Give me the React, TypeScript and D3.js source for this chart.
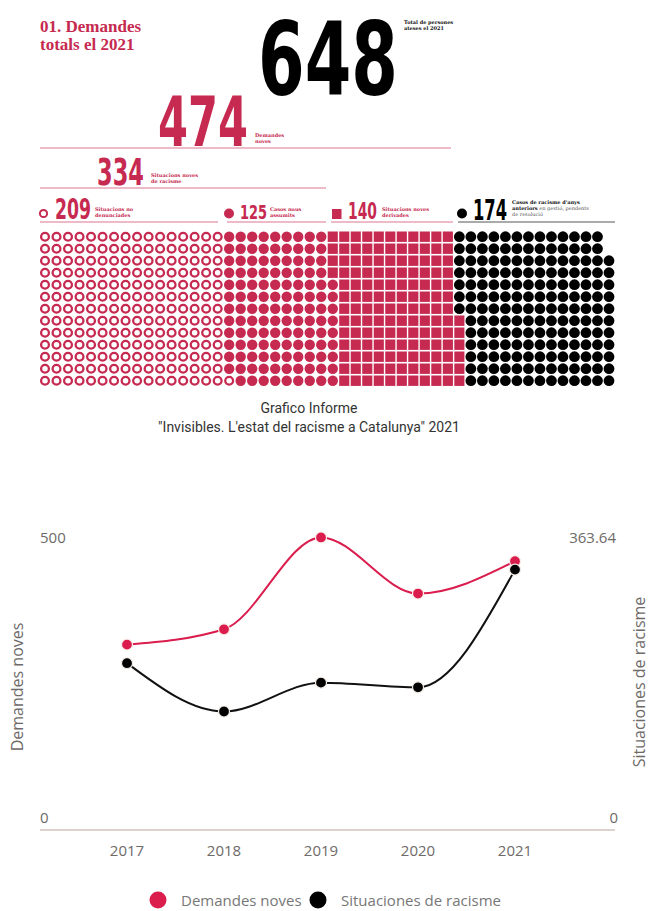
import React, { useLayoutEffect, useRef, useState } from 'react';
import * as d3 from 'd3';

// dades
const wCounts = [209, 125, 140, 174];
const wKinds = ['ring', 'dot', 'square', 'black'];
const ROWS = 13;

const years = [2017, 2018, 2019, 2020, 2021];
const demandesNoves = [327, 354, 516, 417, 474];
const situacions = [214, 152, 189, 183, 334];
const leftMax = 500;
const rightMax = 363.64;

const RED = '#c62a50';
const RED2 = '#da1d4d';
const LINE_PINK = '#eaa3b4';
const GREY = '#6e6a68';
const NUM_FONT = '"Liberation Sans Narrow", "DejaVu Sans Condensed", "Liberation Sans", Arial, sans-serif';
const SERIF = '"DejaVu Serif", "Liberation Serif", serif';
const AXIS_FONT = '"Open Sans", "Noto Sans", sans-serif';

// waffle cells, column by column, from the bottom up
const cells: { kind: string; col: number; row: number }[] = [];
{
  let i = 0;
  wCounts.forEach((n, k) => {
    for (let j = 0; j < n; j++, i++) {
      cells.push({ kind: wKinds[k], col: Math.floor(i / ROWS), row: ROWS - 1 - (i % ROWS) });
    }
  });
}

// big condensed number: squeezed horizontally to the width seen in the reference
const BigNum = ({ x, y, size, len, fill, children }: any) => {
  const ref = useRef<SVGTextElement>(null);
  const [sx, setSx] = useState(1);
  useLayoutEffect(() => {
    const w = ref.current ? ref.current.getComputedTextLength() : 0;
    if (w > 0) setSx(len / w);
  }, [len, size]);
  return (
    <text ref={ref} transform={`translate(${x},${y}) scale(${sx},1)`} fontFamily={NUM_FONT}
      fontWeight="bold" fontSize={size} fill={fill}>{children}</text>
  );
};

const Tiny = ({ x, y, lines, fill = RED }: any) => (
  <g fontFamily={SERIF} fontWeight="bold" fontSize={5} fill={fill}>
    {lines.map((l: string, i: number) => (
      <text key={i} x={x} y={y + i * 6}>{l}</text>
    ))}
  </g>
);

export default function App() {
  const nCols = Math.ceil(cells.length / ROWS);
  const cx = d3.scaleLinear().domain([0, nCols - 1]).range([45, 609]);
  const cy = d3.scaleLinear().domain([0, ROWS - 1]).range([236.7, 380.7]);
  const colStep = cx(1) - cx(0);
  const rowStep = cy(1) - cy(0);

  const x = d3.scalePoint<number>().domain(years).range([127, 515]);
  const yL = d3.scaleLinear().domain([0, leftMax]).range([830, 546.5]);
  const yR = d3.scaleLinear().domain([0, rightMax]).range([830, 546.5]);

  const lineL = d3.line<number>().x((_, i) => x(years[i])!).y(d => yL(d)).curve(d3.curveMonotoneX);
  const lineR = d3.line<number>().x((_, i) => x(years[i])!).y(d => yR(d)).curve(d3.curveMonotoneX);

  return (
    <svg width={650} height={911} style={{ position: 'absolute', left: 0, top: 0, background: '#fff' }}>
      {/* capçalera */}
      <text x={40} y={31.5} fontFamily='"Liberation Serif", serif' fontWeight="bold" fontSize={17} fill={RED}>01. Demandes</text>
      <text x={40} y={49.5} fontFamily='"Liberation Serif", serif' fontWeight="bold" fontSize={17} fill={RED}>totals el 2021</text>

      <BigNum x={258} y={95} size={102} len={140} fill="#000">648</BigNum>
      <Tiny x={404} y={24} lines={['Total de persones', 'ateses el 2021']} fill="#111" />

      <BigNum x={158} y={145.5} size={70} len={90} fill={RED}>474</BigNum>
      <Tiny x={255} y={137} lines={['Demandes', 'noves']} />
      <line x1={40} x2={451} y1={148} y2={148} stroke={LINE_PINK} strokeWidth={1.5} />

      <BigNum x={97} y={185} size={38} len={47} fill={RED}>334</BigNum>
      <Tiny x={151} y={177} lines={['Situacions noves', 'de racisme']} />
      <line x1={40} x2={326} y1={188} y2={188} stroke={LINE_PINK} strokeWidth={1.5} />

      <circle cx={43.5} cy={213.5} r={3.6} fill="#fff" stroke={RED} strokeWidth={2} />
      <BigNum x={55} y={219} size={28} len={36} fill={RED}>209</BigNum>
      <Tiny x={95} y={211} lines={['Situacions no', 'denunciades']} />
      <line x1={40} x2={218} y1={222} y2={222} stroke={LINE_PINK} strokeWidth={1.5} />

      <circle cx={229} cy={213.5} r={5} fill={RED} />
      <BigNum x={240} y={219} size={19} len={27} fill={RED}>125</BigNum>
      <Tiny x={270} y={211} lines={['Casos nous', 'assumits']} />
      <line x1={227} x2={326} y1={222} y2={222} stroke={LINE_PINK} strokeWidth={1.5} />

      <rect x={332} y={209} width={9.5} height={10} fill={RED} />
      <BigNum x={348} y={219} size={23} len={29} fill={RED}>140</BigNum>
      <Tiny x={382} y={211} lines={['Situacions noves', 'derivades']} />
      <line x1={331} x2={453} y1={222} y2={222} stroke={LINE_PINK} strokeWidth={1.5} />

      <circle cx={462} cy={213.5} r={5} fill="#000" />
      <BigNum x={473} y={220} size={28} len={34} fill="#000">174</BigNum>
      <g fontFamily={SERIF} fontSize={5} fill="#555">
        <text x={512} y={204} fontWeight="bold" fill="#111">Casos de racisme d'anys</text>
        <text x={512} y={210}>
          <tspan fontWeight="bold" fill="#111">anteriors</tspan> en gestió, pendents
        </text>
        <text x={512} y={216}>de resolució</text>
      </g>
      <line x1={458} x2={615} y1={222} y2={222} stroke="#aaa" strokeWidth={2} />

      {/* waffle */}
      <g>
        {cells.map((c, i) => {
          const px = cx(c.col);
          const py = cy(c.row);
          if (c.kind === 'ring')
            return <circle key={i} cx={px} cy={py} r={3.9} fill="#fff" stroke={RED} strokeWidth={2.3} />;
          if (c.kind === 'dot')
            return <circle key={i} cx={px} cy={py} r={5.2} fill={RED} />;
          if (c.kind === 'square')
            return <rect key={i} x={px - colStep / 2 + 0.7} y={py - rowStep / 2 + 0.8}
              width={colStep - 1.4} height={rowStep - 1.6} fill={RED} />;
          return <circle key={i} cx={px} cy={py} r={5.4} fill="#000" />;
        })}
      </g>

      {/* peu */}
      <text x={309} y={413} textAnchor="middle" fontFamily="Roboto, sans-serif" fontSize={14} fill="#333">Grafico Informe</text>
      <text x={309} y={432} textAnchor="middle" fontFamily="Roboto, sans-serif" fontSize={14} fill="#333">
        "Invisibles. L'estat del racisme a Catalunya" 2021
      </text>

      {/* gràfic de línies */}
      <g fontFamily={AXIS_FONT} fill={GREY}>
        <text x={40} y={yL(leftMax) - 4} fontSize={15}>{leftMax}</text>
        <text x={40} y={yL(0) - 7} fontSize={15}>0</text>
        <text x={616} y={yR(rightMax) - 4} fontSize={15} textAnchor="end">{rightMax.toFixed(2)}</text>
        <text x={618} y={yR(0) - 7} fontSize={15} textAnchor="end">0</text>
        <text transform={`translate(23,687) rotate(-90)`} textAnchor="middle" fontSize={16}>Demandes noves</text>
        <text transform={`translate(645,682) rotate(-90)`} textAnchor="middle" fontSize={16}>Situaciones de racisme</text>
        {years.map(yr => (
          <text key={yr} x={x(yr)} y={856} textAnchor="middle" fontSize={15}>{yr}</text>
        ))}
      </g>
      <line x1={40} x2={615} y1={yL(0)} y2={yL(0)} stroke="#ddd3cc" strokeWidth={2} />

      <path d={lineL(demandesNoves)!} fill="none" stroke={RED2} strokeWidth={2} />
      <path d={lineR(situacions)!} fill="none" stroke="#111" strokeWidth={2} />
      {demandesNoves.map((v, i) => (
        <circle key={'r' + i} cx={x(years[i])} cy={yL(v)} r={5.5} fill={RED2} stroke="#fbeee8" strokeWidth={1.2} />
      ))}
      {situacions.map((v, i) => (
        <circle key={'b' + i} cx={x(years[i])} cy={yR(v)} r={5.5} fill="#000" stroke="#f3ece6" strokeWidth={1.2} />
      ))}

      {/* llegenda */}
      <circle cx={158} cy={900} r={8.5} fill={RED2} />
      <text x={181} y={905.5} fontFamily={AXIS_FONT} fontSize={15} fill="#777">Demandes noves</text>
      <circle cx={318} cy={900} r={8.5} fill="#000" />
      <text x={341} y={905.5} fontFamily={AXIS_FONT} fontSize={15} fill="#777">Situaciones de racisme</text>
    </svg>
  );
}
